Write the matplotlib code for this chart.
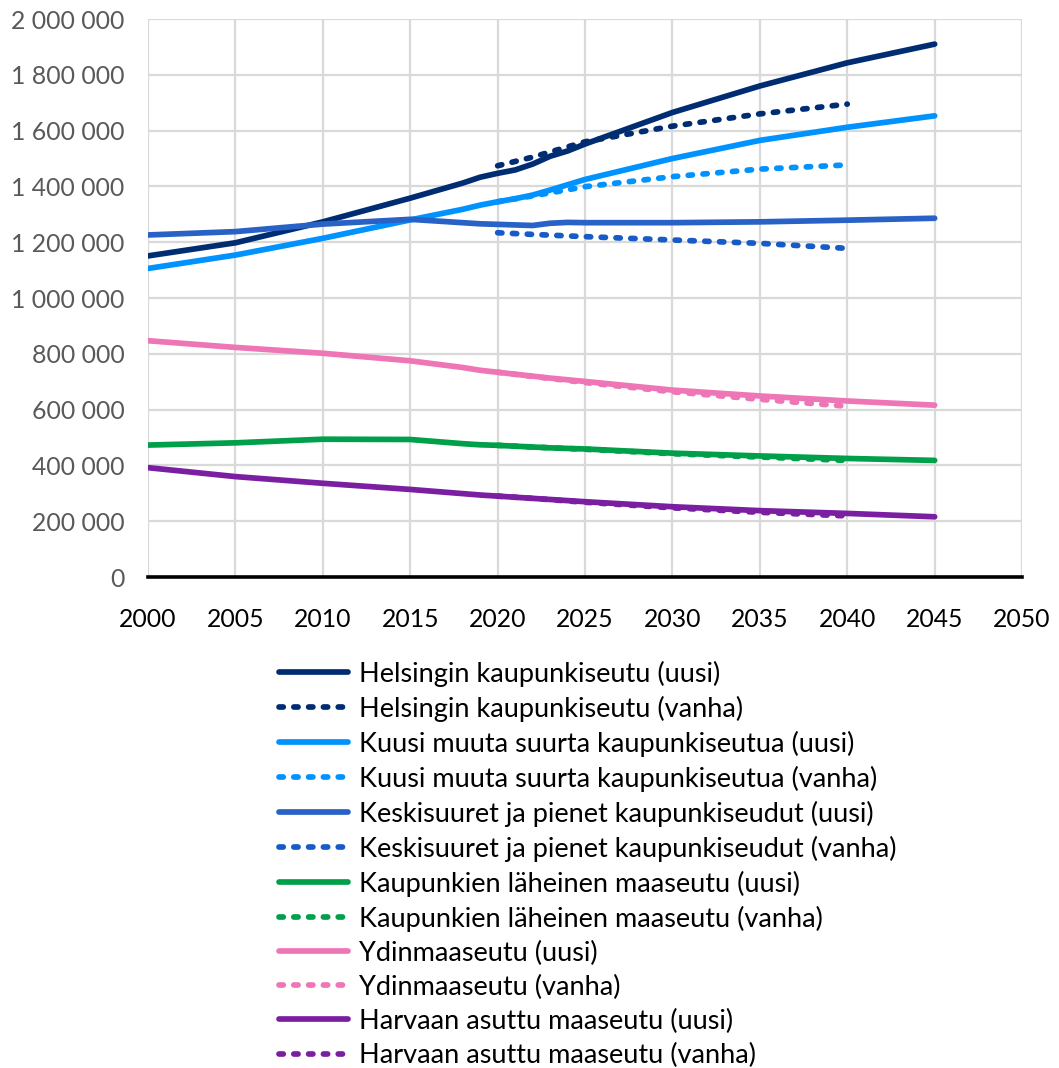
import matplotlib
matplotlib.use("Agg")
import matplotlib.pyplot as plt
from matplotlib import font_manager
from matplotlib.ticker import FuncFormatter, MultipleLocator

# fonts: Lato is close enough in width to the original Myriad-like face
available = {f.name for f in font_manager.fontManager.ttflist}
font = "DejaVu Sans"
for name in ["Lato", "Noto Sans", "Open Sans"]:
    if name in available:
        font = name
        break
plt.rcParams["font.family"] = [font, "DejaVu Sans"]

years_new = [2000, 2005, 2010, 2015, 2018, 2019, 2020, 2021, 2022, 2023,
             2024, 2025, 2030, 2035, 2040, 2045]
years_old = [2020, 2022, 2025, 2030, 2035, 2040]

helsinki_uusi = [1151000, 1198000, 1273000, 1358000, 1412000, 1433000, 1447000,
                 1459000, 1480000, 1508000, 1527000, 1552000, 1665000, 1760000,
                 1843000, 1910000]
helsinki_vanha = [1474000, 1505000, 1560000, 1616000, 1660000, 1695000]

kuusi_uusi = [1106000, 1154000, 1214000, 1280000, 1318000, 1333000, 1345000,
              1356000, 1369000, 1387000, 1406000, 1425000, 1500000, 1565000,
              1612000, 1653000]
kuusi_vanha = [1345000, 1366000, 1399000, 1435000, 1462000, 1477000]

keski_uusi = [1226000, 1238000, 1265000, 1282000, 1270000, 1266000, 1264000,
              1262000, 1260000, 1268000, 1271000, 1270000, 1270000, 1273000,
              1279000, 1286000]
keski_vanha = [1234000, 1228000, 1220000, 1208000, 1196000, 1178000]

lahi_uusi = [473000, 481000, 494000, 493000, 478000, 474000, 472000, 469000,
             466000, 463000, 461000, 459000, 444000, 434000, 425000, 418000]
lahi_vanha = [472000, 466000, 458000, 442000, 430000, 418000]

ydin_uusi = [847000, 823000, 802000, 775000, 751000, 741000, 734000, 727000,
             720000, 713000, 707000, 701000, 670000, 649000, 631000, 616000]
ydin_vanha = [734000, 719000, 697000, 664000, 637000, 612000]

harva_uusi = [392000, 360000, 336000, 314000, 299000, 294000, 290000, 286000,
              282000, 278000, 274000, 270000, 252000, 238000, 228000, 216000]
harva_vanha = [290000, 282000, 268000, 248000, 232000, 219000]

series = [
    ("Helsingin kaupunkiseutu", helsinki_uusi, helsinki_vanha, "#002D72", "#002D72"),
    ("Kuusi muuta suurta kaupunkiseutua", kuusi_uusi, kuusi_vanha, "#0093FF", "#0093FF"),
    ("Keskisuuret ja pienet kaupunkiseudut", keski_uusi, keski_vanha, "#2862C6", "#175CC6"),
    ("Kaupunkien läheinen maaseutu", lahi_uusi, lahi_vanha, "#00A04A", "#00A04A"),
    ("Ydinmaaseutu", ydin_uusi, ydin_vanha, "#EE76B6", "#EE76B6"),
    ("Harvaan asuttu maaseutu", harva_uusi, harva_vanha, "#7B1FA2", "#7B1FA2"),
]

fig = plt.figure(figsize=(10.59, 10.68), dpi=100)
ax = fig.add_axes([0.1398, 0.4597, 0.8253, 0.5225])

lw = 4.1
for name, new, old, c_new, c_old in series:
    ax.plot(years_new, new, color=c_new, lw=lw, solid_capstyle="round",
            solid_joinstyle="round", label=f"{name} (uusi)", zorder=3)
    ax.plot(years_old, old, color=c_old, lw=lw, linestyle=(0, (0.75, 1.85)),
            dash_capstyle="round", label=f"{name} (vanha)", zorder=3)

ax.set_xlim(2000, 2050)
ax.set_ylim(0, 2000000)
ax.xaxis.set_major_locator(MultipleLocator(5))
ax.yaxis.set_major_locator(MultipleLocator(200000))
ax.yaxis.set_major_formatter(
    FuncFormatter(lambda v, p: f"{int(v):,}".replace(",", " "))
)

ax.grid(True, color="#D9D9D9", lw=1.6, zorder=0)
ax.set_axisbelow(True)
for side in ["top", "right", "left"]:
    ax.spines[side].set_visible(False)
ax.spines["bottom"].set_linewidth(2.6)
ax.spines["bottom"].set_color("black")
ax.spines["bottom"].set_zorder(4)

ax.tick_params(axis="both", length=0, labelsize=17.8)
ax.tick_params(axis="y", labelcolor="#595959", pad=17)
ax.tick_params(axis="x", labelcolor="black", pad=22)

ax.legend(
    loc="upper center",
    bbox_to_anchor=(0.503, -0.13),
    frameon=False,
    fontsize=19.5,
    handlelength=2.55,
    handletextpad=0.4,
    labelspacing=0.33,
    borderaxespad=0,
)

plt.savefig("out.png", dpi=100)
